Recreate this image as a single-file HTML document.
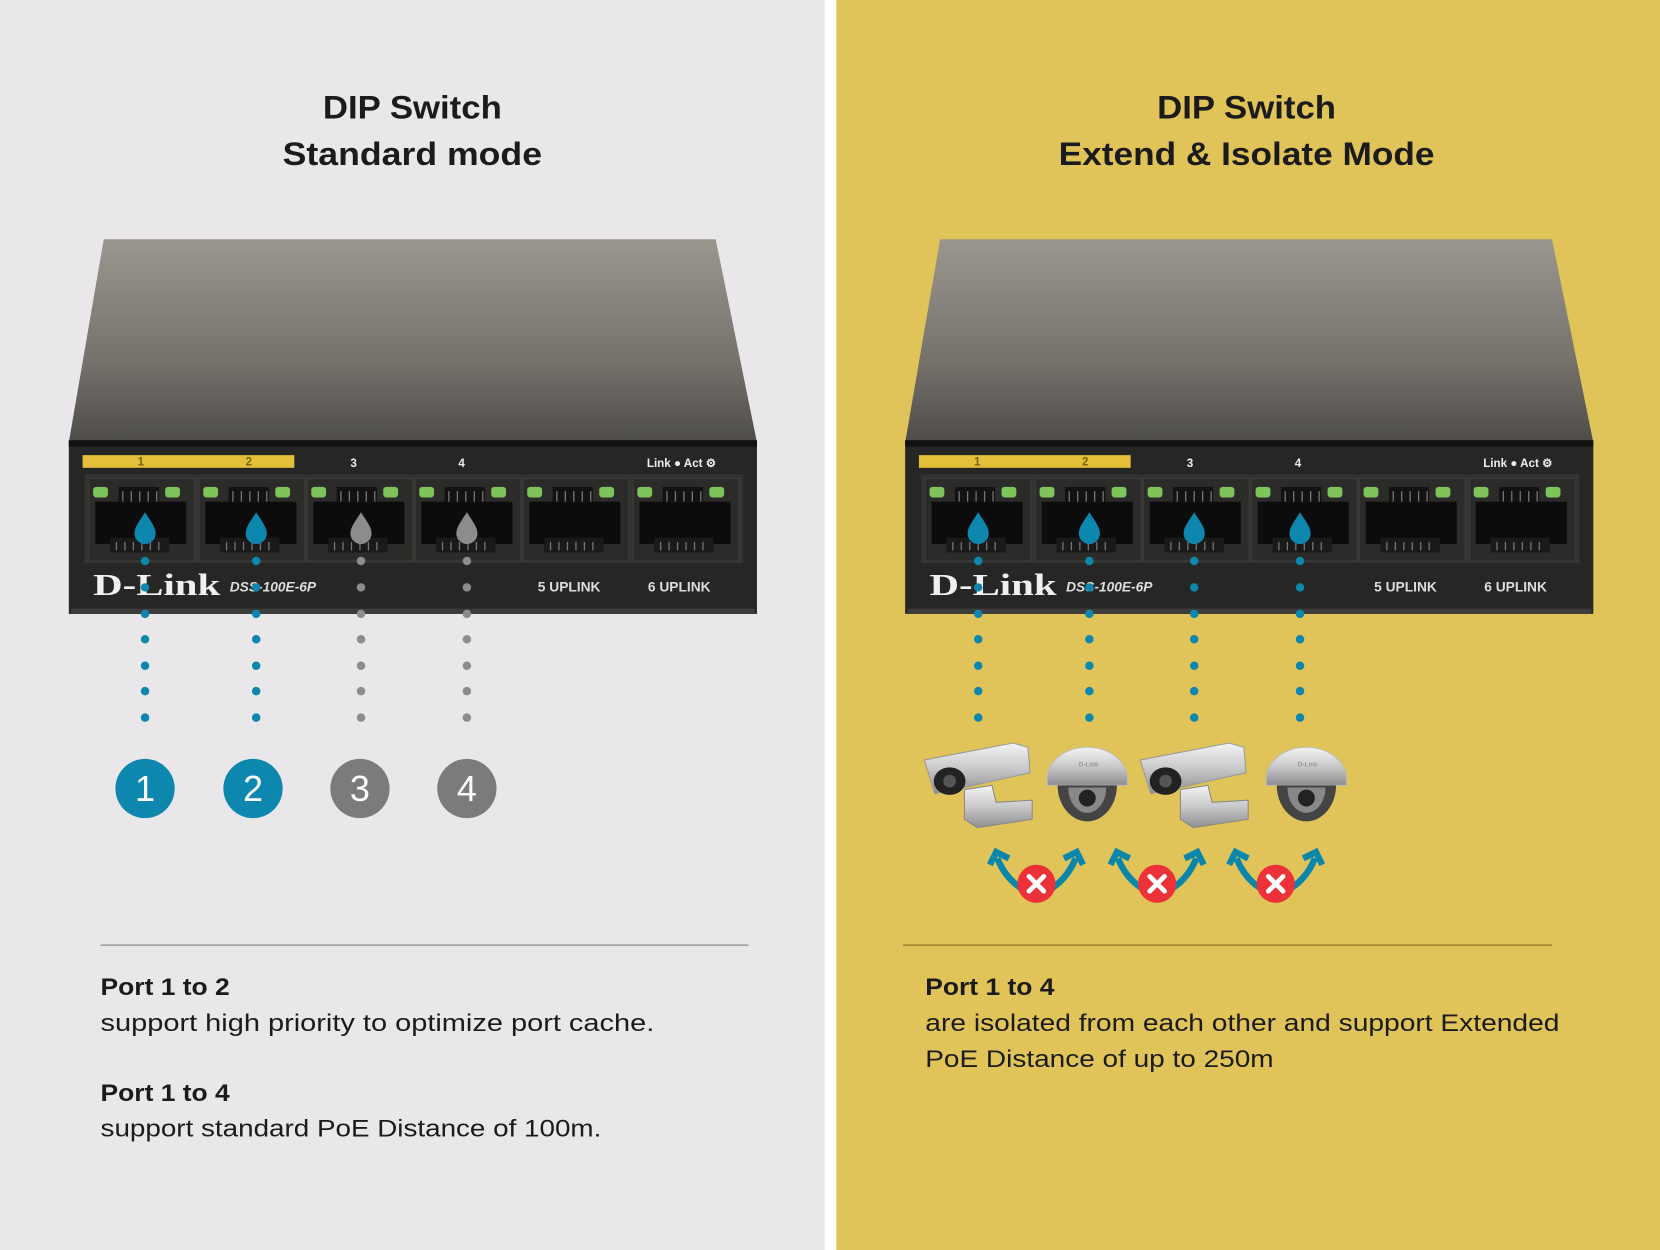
<!DOCTYPE html>
<html><head><meta charset="utf-8"><style>
html,body{margin:0;padding:0;width:1660px;height:1250px;overflow:hidden;background:#e9e7ea}
svg{display:block}
</style></head><body>
<svg width="1660" height="1250" viewBox="0 0 1568 1181" preserveAspectRatio="none" xmlns="http://www.w3.org/2000/svg" font-family="Liberation Sans, sans-serif">
<defs>
<linearGradient id="top" x1="0" y1="0" x2="0" y2="1"><stop offset="0" stop-color="#9b978f"/><stop offset="0.6" stop-color="#75726c"/><stop offset="1" stop-color="#4e4c48"/></linearGradient>
<linearGradient id="silver" x1="0" y1="0" x2="0" y2="1"><stop offset="0" stop-color="#f4f4f4"/><stop offset="0.5" stop-color="#c9c9cb"/><stop offset="1" stop-color="#8e8e90"/></linearGradient>
<g id="port">
  <rect x="-50" y="0" width="100" height="78" fill="#2b2b2a" stroke="#3d3d3b"/>
  <rect x="-46" y="8" width="14" height="10" rx="3" fill="#7fc45a"/>
  <rect x="22" y="8" width="14" height="10" rx="3" fill="#7fc45a"/>
  <rect x="-22" y="8" width="38" height="16" fill="#121212"/>
  <rect x="-44" y="22" width="86" height="40" fill="#0c0c0c"/>
  <rect x="-30" y="56" width="56" height="14" fill="#1a1a1a"/>
  <g stroke="#777" stroke-width="1.2">
    <line x1="-18" y1="12" x2="-18" y2="22"/><line x1="-10" y1="12" x2="-10" y2="22"/><line x1="-2" y1="12" x2="-2" y2="22"/><line x1="6" y1="12" x2="6" y2="22"/><line x1="14" y1="12" x2="14" y2="22"/>
    <line x1="-24" y1="60" x2="-24" y2="68"/><line x1="-16" y1="60" x2="-16" y2="68"/><line x1="-8" y1="60" x2="-8" y2="68"/><line x1="0" y1="60" x2="0" y2="68"/><line x1="8" y1="60" x2="8" y2="68"/><line x1="16" y1="60" x2="16" y2="68"/>
  </g>
</g>
<g id="switch">
  <path d="M98,226 L676,226 L715,418 L65,418 Z" fill="url(#top)"/>
  <rect x="65" y="416" width="650" height="164" fill="#262624"/>
  <rect x="65" y="416" width="650" height="6" fill="#111"/>
  <rect x="67" y="575" width="646" height="5" fill="#3c3c3a"/>
  <rect x="78" y="430" width="200" height="12" fill="#e4bf3a"/>
  <g font-size="11" font-weight="bold" fill="#eee">
    <text x="130" y="440" fill="#7a6315">1</text><text x="232" y="440" fill="#7a6315">2</text>
    <text x="331" y="441">3</text><text x="433" y="441">4</text>
    <text x="611" y="441">Link ● Act ⚙</text>
  </g>
  <rect x="80" y="448" width="622" height="84" fill="#333331"/>
  <use href="#port" transform="translate(134,452)"/>
  <use href="#port" transform="translate(238,452)"/>
  <use href="#port" transform="translate(340,452)"/>
  <use href="#port" transform="translate(442,452)"/>
  <use href="#port" transform="translate(544,452)"/>
  <use href="#port" transform="translate(648,452)"/>
  <text x="88" y="562" font-family="Liberation Serif, serif" font-weight="bold" font-size="29" fill="#f0f0f0" textLength="120" lengthAdjust="spacingAndGlyphs">D-Link</text>
  <text x="217" y="559" font-size="13" font-style="italic" font-weight="bold" fill="#ddd">DSS-100E-6P</text>
  <text x="508" y="559" font-size="13" font-weight="bold" fill="#ddd">5 UPLINK</text>
  <text x="612" y="559" font-size="13" font-weight="bold" fill="#ddd">6 UPLINK</text>
</g>
<g id="drop"><path d="M0,-16 C5,-8 10,-2 10,4 A10,10 0 0 1 -10,4 C-10,-2 -5,-8 0,-16 Z"/></g>
<g id="bullet">
  <path d="M40,46 L40,74 L52,82 L104,74 L104,56 L70,58 L66,42 Z" fill="url(#silver)" stroke="#888"/>
  <path d="M2,18 L86,2 L100,6 L102,30 L40,44 L12,50 Z" fill="url(#silver)" stroke="#999"/>
  <ellipse cx="26" cy="38" rx="15" ry="13" fill="#222"/>
  <circle cx="26" cy="38" r="6" fill="#555"/>
</g>
<g id="dome">
  <path d="M0,30 A38,30 0 0 1 76,30 L76,36 L0,36 Z" fill="url(#silver)" stroke="#bbb"/>
  <path d="M10,36 A28,34 0 0 0 66,36 Z" fill="#444"/>
  <path d="M20,38 A18,24 0 0 0 56,38 Z" fill="#888"/>
  <circle cx="38" cy="48" r="8" fill="#222"/>
  <text x="30" y="18" font-size="6" fill="#999" font-weight="bold">D-Link</text>
</g>
<g id="iso">
  <path d="M-37,-24 Q-28,-2 -8,8" fill="none" stroke="#0a86aa" stroke-width="6"/>
  <path d="M-44,-18 L-38,-30 L-26,-24" fill="none" stroke="#0a86aa" stroke-width="6"/>
  <path d="M37,-24 Q28,-2 8,8" fill="none" stroke="#0a86aa" stroke-width="6"/>
  <path d="M44,-18 L38,-30 L26,-24" fill="none" stroke="#0a86aa" stroke-width="6"/>
  <circle cx="0" cy="0" r="18" fill="#ed3139"/>
  <path d="M-7,-7 L7,7 M7,-7 L-7,7" stroke="#fff" stroke-width="4.5" stroke-linecap="round"/>
</g>
</defs>

<rect x="0" y="0" width="779" height="1181" fill="#e9e7ea"/>
<rect x="779" y="0" width="11" height="1181" fill="#ffffff"/>
<rect x="790" y="0" width="778" height="1181" fill="#e0c45a"/>

<g font-size="31" fill="#1b1b1b" font-weight="bold">
  <text x="305" y="112" textLength="169" lengthAdjust="spacingAndGlyphs">DIP Switch</text>
  <text x="267" y="156" textLength="245" lengthAdjust="spacingAndGlyphs">Standard mode</text>
  <text x="1093" y="112" textLength="169" lengthAdjust="spacingAndGlyphs">DIP Switch</text>
  <text x="1000" y="156" textLength="355" lengthAdjust="spacingAndGlyphs">Extend &amp; Isolate Mode</text>
</g>

<use href="#switch"/>
<use href="#switch" transform="translate(790,0)"/>

<g fill="#0d87ad"><use href="#drop" transform="translate(137,500)"/><use href="#drop" transform="translate(242,500)"/></g>
<g fill="#8c8c8c"><use href="#drop" transform="translate(341,500)"/><use href="#drop" transform="translate(441,500)"/></g>
<g fill="#0d87ad">
  <circle cx="137" cy="530" r="4"/><circle cx="137" cy="555" r="4"/><circle cx="137" cy="580" r="4"/><circle cx="137" cy="604" r="4"/><circle cx="137" cy="629" r="4"/><circle cx="137" cy="653" r="4"/><circle cx="137" cy="678" r="4"/>
  <circle cx="242" cy="530" r="4"/><circle cx="242" cy="555" r="4"/><circle cx="242" cy="580" r="4"/><circle cx="242" cy="604" r="4"/><circle cx="242" cy="629" r="4"/><circle cx="242" cy="653" r="4"/><circle cx="242" cy="678" r="4"/>
</g>
<g fill="#8c8c8c">
  <circle cx="341" cy="530" r="4"/><circle cx="341" cy="555" r="4"/><circle cx="341" cy="580" r="4"/><circle cx="341" cy="604" r="4"/><circle cx="341" cy="629" r="4"/><circle cx="341" cy="653" r="4"/><circle cx="341" cy="678" r="4"/>
  <circle cx="441" cy="530" r="4"/><circle cx="441" cy="555" r="4"/><circle cx="441" cy="580" r="4"/><circle cx="441" cy="604" r="4"/><circle cx="441" cy="629" r="4"/><circle cx="441" cy="653" r="4"/><circle cx="441" cy="678" r="4"/>
</g>
<circle cx="137" cy="745" r="28" fill="#0d87ad"/>
<circle cx="239" cy="745" r="28" fill="#0d87ad"/>
<circle cx="340" cy="745" r="28" fill="#7b7b7b"/>
<circle cx="441" cy="745" r="28" fill="#7b7b7b"/>
<g fill="#fff" font-size="34" text-anchor="middle">
  <text x="137" y="757">1</text><text x="239" y="757">2</text><text x="340" y="757">3</text><text x="441" y="757">4</text>
</g>

<g fill="#0d87ad">
  <use href="#drop" transform="translate(924,500)"/><use href="#drop" transform="translate(1029,500)"/><use href="#drop" transform="translate(1128,500)"/><use href="#drop" transform="translate(1228,500)"/>
  <circle cx="924" cy="530" r="4"/><circle cx="924" cy="555" r="4"/><circle cx="924" cy="580" r="4"/><circle cx="924" cy="604" r="4"/><circle cx="924" cy="629" r="4"/><circle cx="924" cy="653" r="4"/><circle cx="924" cy="678" r="4"/>
  <circle cx="1029" cy="530" r="4"/><circle cx="1029" cy="555" r="4"/><circle cx="1029" cy="580" r="4"/><circle cx="1029" cy="604" r="4"/><circle cx="1029" cy="629" r="4"/><circle cx="1029" cy="653" r="4"/><circle cx="1029" cy="678" r="4"/>
  <circle cx="1128" cy="530" r="4"/><circle cx="1128" cy="555" r="4"/><circle cx="1128" cy="580" r="4"/><circle cx="1128" cy="604" r="4"/><circle cx="1128" cy="629" r="4"/><circle cx="1128" cy="653" r="4"/><circle cx="1128" cy="678" r="4"/>
  <circle cx="1228" cy="530" r="4"/><circle cx="1228" cy="555" r="4"/><circle cx="1228" cy="580" r="4"/><circle cx="1228" cy="604" r="4"/><circle cx="1228" cy="629" r="4"/><circle cx="1228" cy="653" r="4"/><circle cx="1228" cy="678" r="4"/>
</g>

<use href="#bullet" transform="translate(871,700)"/>
<use href="#dome" transform="translate(989,706)"/>
<use href="#bullet" transform="translate(1075,700)"/>
<use href="#dome" transform="translate(1196,706)"/>

<use href="#iso" transform="translate(979,835)"/>
<use href="#iso" transform="translate(1093,835)"/>
<use href="#iso" transform="translate(1205,835)"/>

<line x1="95" y1="893" x2="707" y2="893" stroke="#8a8a8a" stroke-width="1.2"/>
<line x1="853" y1="893" x2="1466" y2="893" stroke="#8c7426" stroke-width="1.2"/>

<g font-size="23" fill="#1b1b1b">
  <text x="95" y="940" font-weight="bold" textLength="122" lengthAdjust="spacingAndGlyphs">Port 1 to 2</text>
  <text x="95" y="974" textLength="523" lengthAdjust="spacingAndGlyphs">support high priority to optimize port cache.</text>
  <text x="95" y="1040" font-weight="bold" textLength="122" lengthAdjust="spacingAndGlyphs">Port 1 to 4</text>
  <text x="95" y="1074" textLength="473" lengthAdjust="spacingAndGlyphs">support standard PoE Distance of 100m.</text>
  <text x="874" y="940" font-weight="bold" textLength="122" lengthAdjust="spacingAndGlyphs">Port 1 to 4</text>
  <text x="874" y="974" textLength="599" lengthAdjust="spacingAndGlyphs">are isolated from each other and support Extended</text>
  <text x="874" y="1008" textLength="329" lengthAdjust="spacingAndGlyphs">PoE Distance of up to 250m</text>
</g>
</svg>
</body></html>
